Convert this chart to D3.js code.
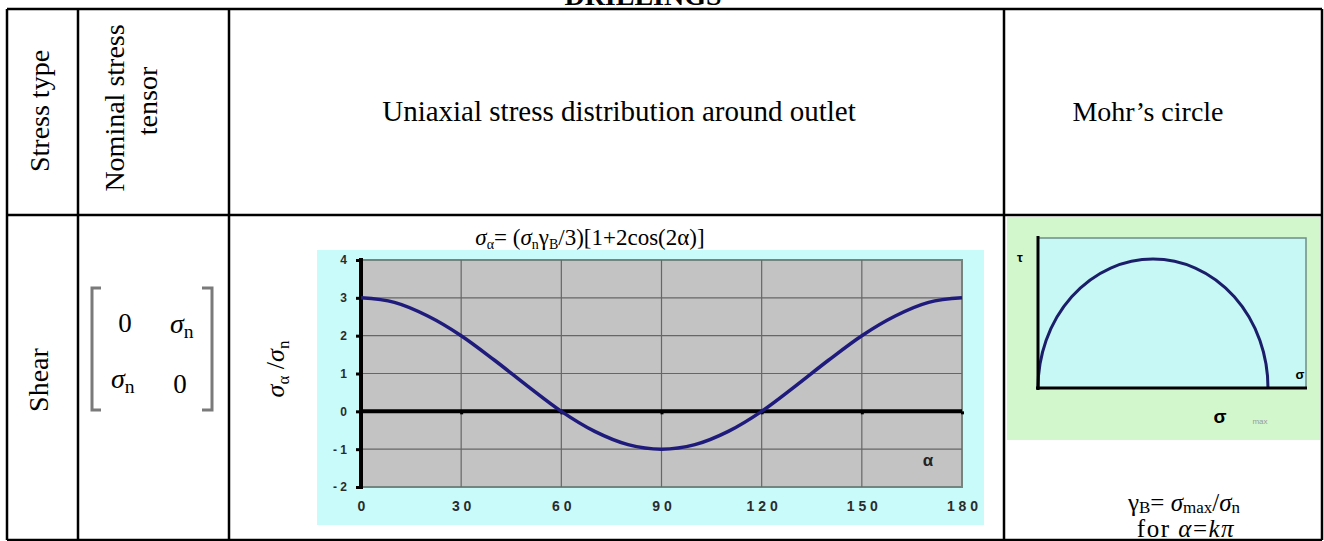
<!DOCTYPE html>
<html>
<head>
<meta charset="utf-8">
<script src="https://cdn.jsdelivr.net/npm/d3@7"></script>
<style>
  body { margin: 0; background: #fff; }
  .serif { font-family: "Liberation Serif", "Times New Roman", serif; }
  .sans { font-family: "Liberation Sans", Arial, sans-serif; }
</style>
</head>
<body>
<div id="chart"></div>
<script>
// data
var alphaDeg = [0, 10, 20, 30, 40, 50, 60, 70, 80, 90, 100, 110, 120, 130, 140, 150, 160, 170, 180];
var stressRatio = [3, 2.88, 2.52, 2, 1.35, 0.66, 0, -0.53, -0.88, -1, -0.88, -0.53, 0, 0.66, 1.35, 2, 2.52, 2.88, 3];
var xTicks = [0, 30, 60, 90, 120, 150, 180];
var yTicks = [-2, -1, 0, 1, 2, 3, 4];
// Mohr's circle: sigma runs from 0 to sigma max
var mohrSigma = [0, 3];
var mohrTauTop = 1.5;

var W = 1324, H = 541;
var svg = d3.select("#chart").append("svg")
    .attr("width", W)
    .attr("height", H);

// table grid
var colX = [7, 78, 229, 1004, 1322];
var rowY = [9, 215, 540];
var grid = svg.append("g").attr("stroke", "#000").attr("stroke-width", 2.5);
colX.forEach(function(x) {
  grid.append("line").attr("x1", x).attr("x2", x).attr("y1", rowY[0]).attr("y2", rowY[2]);
});
rowY.forEach(function(y) {
  grid.append("line").attr("x1", colX[0]).attr("x2", colX[4]).attr("y1", y).attr("y2", y);
});

// title, cut off at the top like in the source
svg.append("text").attr("class", "serif")
    .attr("x", 643).attr("y", 5)
    .attr("text-anchor", "middle")
    .style("font-size", "28px").style("font-weight", "bold")
    .text("DRILLINGS");

// header row
function vtext(x, y, t, size) {
  svg.append("text").attr("class", "serif")
      .attr("transform", "translate(" + x + "," + y + ") rotate(-90)")
      .attr("text-anchor", "middle")
      .style("font-size", size + "px")
      .text(t);
}
vtext(49, 111, "Stress type", 28);
vtext(124, 108, "Nominal stress", 28);
vtext(157, 101, "tensor", 28);
svg.append("text").attr("class", "serif")
    .attr("x", 619).attr("y", 121).attr("text-anchor", "middle")
    .style("font-size", "29px")
    .text("Uniaxial stress distribution around outlet");
svg.append("text").attr("class", "serif")
    .attr("x", 1148).attr("y", 121).attr("text-anchor", "middle")
    .style("font-size", "28px")
    .text("Mohr\u2019s circle");

// body row: stress type
vtext(48, 380, "Shear", 28);

// nominal stress tensor as a matrix
var br = svg.append("g").attr("fill", "none").attr("stroke", "#7a7a7a").attr("stroke-width", 3);
br.append("path").attr("d", "M101,288 H92 V410 H101");
br.append("path").attr("d", "M202,288 H212 V410 H202");
function sig(x, y, sub, size) {
  var t = svg.append("text").attr("class", "serif")
      .attr("x", x).attr("y", y)
      .style("font-size", size + "px");
  t.append("tspan").style("font-style", "italic").text("\u03c3");
  t.append("tspan").attr("dy", 5).style("font-size", (size * 0.7) + "px").text(sub);
  return t;
}
svg.append("text").attr("class", "serif").attr("x", 125).attr("y", 332)
    .attr("text-anchor", "middle").style("font-size", "27px").text("0");
svg.append("text").attr("class", "serif").attr("x", 180).attr("y", 393)
    .attr("text-anchor", "middle").style("font-size", "27px").text("0");
sig(170, 333, "n", 28);
sig(111, 388, "n", 28);

// ---------- stress distribution chart ----------
var bg = {x0: 317, x1: 984, y0: 250, y1: 525};
svg.append("rect").attr("x", bg.x0).attr("y", bg.y0)
    .attr("width", bg.x1 - bg.x0).attr("height", bg.y1 - bg.y0)
    .attr("fill", "#c9fbfb");

var x = d3.scaleLinear().domain([0, 180]).range([361, 962]);
var y = d3.scaleLinear().domain([-2, 4]).range([487, 260]);

svg.append("rect").attr("x", x(0)).attr("y", y(4))
    .attr("width", x(180) - x(0)).attr("height", y(-2) - y(4))
    .attr("fill", "#c3c3c3").attr("stroke", "#74857f").attr("stroke-width", 2);

// grid lines
svg.append("g").selectAll("line.v").data(xTicks.slice(1, -1)).enter().append("line")
    .attr("x1", function(d) { return x(d); }).attr("x2", function(d) { return x(d); })
    .attr("y1", y(4)).attr("y2", y(-2))
    .attr("stroke", "#666").attr("stroke-width", 1.2);
svg.append("g").selectAll("line.h").data(yTicks.filter(function(d) { return d != 0 && d != 4 && d != -2; })).enter().append("line")
    .attr("x1", x(0)).attr("x2", x(180))
    .attr("y1", function(d) { return y(d); }).attr("y2", function(d) { return y(d); })
    .attr("stroke", "#666").attr("stroke-width", 1.2);

// axes
var yAxis = svg.append("g").attr("transform", "translate(" + x(0) + ",0)")
    .call(d3.axisLeft(y).tickValues(yTicks).tickSize(5).tickPadding(9)
      .tickFormat(function(d) { return d < 0 ? "- " + (-d) : String(d); }));
yAxis.select(".domain").attr("stroke", "#000").attr("stroke-width", 4)
    .attr("d", "M0," + (y(-2) + 2) + "V" + (y(4) - 2));
yAxis.selectAll(".tick line").attr("stroke", "#000").attr("stroke-width", 3);
yAxis.selectAll(".tick text").attr("class", "sans")
    .style("font-size", "12px").style("font-weight", "bold").attr("fill", "#2b2b2b")
    .style("white-space", "pre");

var xAxis = svg.append("g").attr("transform", "translate(0," + y(0) + ")")
    .call(d3.axisBottom(x).tickValues(xTicks).tickSize(3)
      .tickFormat(function(d) { return String(d).split("").join(" "); }));
xAxis.select(".domain").attr("stroke", "#000").attr("stroke-width", 4)
    .attr("d", "M" + x(0) + ",0H" + x(180));
xAxis.selectAll(".tick line").attr("stroke", "#000").attr("stroke-width", 3);
xAxis.selectAll(".tick text").attr("class", "sans")
    .attr("y", y(-2) - y(0) + 14)
    .style("font-size", "14px").style("font-weight", "bold").attr("fill", "#2b2b2b")
    .style("white-space", "pre");

// curve
var line = d3.line()
    .x(function(d, i) { return x(alphaDeg[i]); })
    .y(function(d) { return y(d); })
    .curve(d3.curveMonotoneX);
svg.append("path").datum(stressRatio)
    .attr("d", line)
    .attr("fill", "none").attr("stroke", "#1f1b7c").attr("stroke-width", 3.5)
    .attr("stroke-linejoin", "round");

svg.append("text").attr("class", "sans").attr("x", 928).attr("y", 466)
    .attr("text-anchor", "middle").style("font-size", "17px").style("font-weight", "bold")
    .attr("fill", "#222").text("\u03b1");

// formula over the chart
var f = svg.append("text").attr("class", "serif").attr("x", 590).attr("y", 245)
    .attr("text-anchor", "middle").style("font-size", "23px");
f.append("tspan").style("font-style", "italic").text("\u03c3");
f.append("tspan").attr("dy", 4).style("font-size", "14px").text("\u03b1");
f.append("tspan").attr("dy", -4).text("= (");
f.append("tspan").style("font-style", "italic").text("\u03c3");
f.append("tspan").attr("dy", 4).style("font-size", "14px").text("n");
f.append("tspan").attr("dy", -4).text("\u03b3");
f.append("tspan").attr("dy", 4).style("font-size", "14px").text("B");
f.append("tspan").attr("dy", -4).text("/3)[1+2cos(2\u03b1)]");

// y label
var yl = svg.append("text").attr("class", "serif")
    .attr("transform", "translate(284,369) rotate(-90)")
    .attr("text-anchor", "middle").style("font-size", "26px");
yl.append("tspan").style("font-style", "italic").text("\u03c3");
yl.append("tspan").attr("dy", 5).style("font-size", "17px").text("\u03b1");
yl.append("tspan").attr("dy", -5).text(" /");
yl.append("tspan").style("font-style", "italic").text("\u03c3");
yl.append("tspan").attr("dy", 5).style("font-size", "17px").text("n");

// ---------- Mohr's circle ----------
svg.append("rect").attr("x", 1007).attr("y", 217).attr("width", 313).attr("height", 223)
    .attr("fill", "#d3f7cd");
var mx = d3.scaleLinear().domain(mohrSigma).range([1038, 1268]);
var my = d3.scaleLinear().domain([0, mohrTauTop]).range([388, 259]);
svg.append("rect").attr("x", 1038).attr("y", 238).attr("width", 1306 - 1038).attr("height", 388 - 238)
    .attr("fill", "#c7f8f5").attr("stroke", "#6f8f86").attr("stroke-width", 1.5);
var rx = (mx(mohrSigma[1]) - mx(mohrSigma[0])) / 2, ry = my(0) - my(mohrTauTop);
svg.append("path")
    .attr("d", "M" + mx(mohrSigma[0]) + "," + my(0) + " A" + rx + "," + ry + " 0 0 1 " + mx(mohrSigma[1]) + "," + my(0))
    .attr("fill", "none").attr("stroke", "#1b1f6a").attr("stroke-width", 3);
svg.append("line").attr("x1", 1038).attr("x2", 1038).attr("y1", 236).attr("y2", 390)
    .attr("stroke", "#000").attr("stroke-width", 3);
svg.append("line").attr("x1", 1036).attr("x2", 1307).attr("y1", 388).attr("y2", 388)
    .attr("stroke", "#000").attr("stroke-width", 3);
svg.append("text").attr("class", "sans").attr("x", 1020).attr("y", 262).attr("text-anchor", "middle")
    .style("font-size", "13px").style("font-weight", "bold").text("\u03c4");
svg.append("text").attr("class", "sans").attr("x", 1300).attr("y", 379).attr("text-anchor", "middle")
    .style("font-size", "13px").style("font-weight", "bold").text("\u03c3");
svg.append("text").attr("class", "sans").attr("x", 1220).attr("y", 423).attr("text-anchor", "middle")
    .style("font-size", "19px").style("font-weight", "bold").text("\u03c3");
svg.append("text").attr("class", "sans").attr("x", 1260).attr("y", 424).attr("text-anchor", "middle")
    .style("font-size", "8px").attr("fill", "#999").text("max");

var g1 = svg.append("text").attr("class", "serif").attr("x", 1184).attr("y", 511)
    .attr("text-anchor", "middle").style("font-size", "25px");
g1.append("tspan").text("\u03b3");
g1.append("tspan").attr("dy", 2).style("font-size", "17px").text("B");
g1.append("tspan").attr("dy", -2).text("= ");
g1.append("tspan").style("font-style", "italic").text("\u03c3");
g1.append("tspan").attr("dy", 2).style("font-size", "17px").text("max");
g1.append("tspan").attr("dy", -2).text("/");
g1.append("tspan").style("font-style", "italic").text("\u03c3");
g1.append("tspan").attr("dy", 2).style("font-size", "17px").text("n");
var g2 = svg.append("text").attr("class", "serif").attr("x", 1186).attr("y", 537)
    .attr("text-anchor", "middle").style("font-size", "25px").style("letter-spacing", "1.5px");
g2.append("tspan").text("for ");
g2.append("tspan").style("font-style", "italic").text("\u03b1");
g2.append("tspan").text("=");
g2.append("tspan").style("font-style", "italic").text("k\u03c0");
</script>
</body>
</html>
